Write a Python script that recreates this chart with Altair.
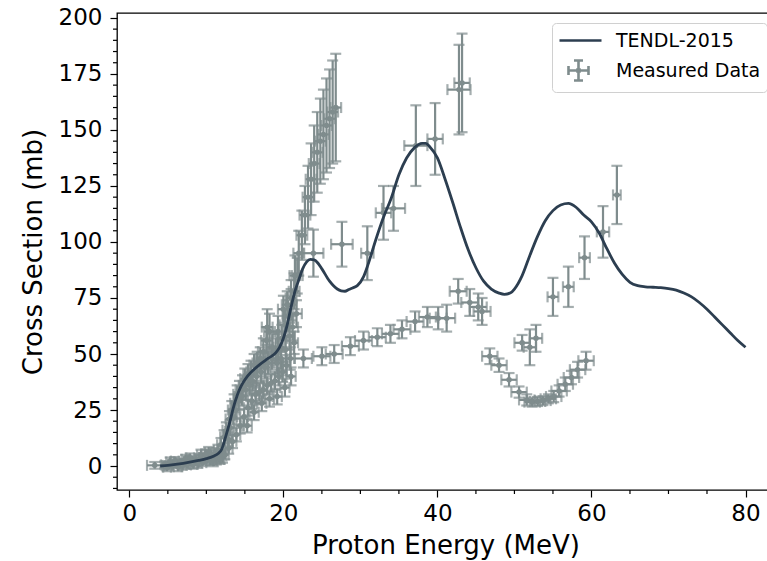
import altair as alt
import pandas as pd

# ---------------- TENDL-2015 evaluation ----------------
tendl_E = [4, 5, 6, 7, 8, 9, 10, 11, 11.5, 12, 12.5, 13, 13.5, 14, 14.5, 15, 15.7, 16, 17, 18, 19,
           19.5, 20, 20.5, 21, 21.5, 22, 22.5, 23, 23.5, 24, 24.5, 25, 26, 27, 27.5, 28, 28.5, 29,
           29.6, 30.4, 31, 32, 33, 34, 35, 36, 37, 38, 38.5, 39, 40, 41, 42, 43, 44, 45, 46,
           47, 48, 48.7, 49.5, 50, 51, 52, 53, 54, 55, 56, 57, 58, 59, 60, 61, 62, 63, 64, 65, 66,
           67, 68, 69, 70, 71, 72, 73, 74, 75, 76, 77, 78, 79, 80]
tendl_xs = [0.0, 0.3, 0.7, 1.2, 1.8, 2.5, 3.3, 4.5, 5.5, 7.5, 13, 19, 26, 31.5, 35.5, 38.5, 41.5, 42.5,
            45.5, 48, 50.5, 53, 57, 63, 71, 78, 83, 88, 91, 92.2, 92, 90.5, 88, 82.5, 79, 78.2, 78,
            78.8, 79.5, 80.5, 84.4, 90, 101, 111, 119.5, 130, 137.5, 142, 144, 144, 142.5, 137.5,
            128, 117.5, 106.5, 96.5, 88.5, 82.5, 79, 77.2, 76.6, 77.3, 79, 85, 94, 102.5, 109.5,
            114, 116.5, 117.2, 115.5, 112, 109, 104, 97, 90.5, 85.5, 82, 80.5, 80, 79.8, 79.6, 79.2,
            78.5, 77.2, 75.5, 73, 70, 66.5, 63, 59.5, 56, 53]

# ---------------- Measured data (energy, cross section, errors) ----------------
meas_E = [3.3, 4.6, 5.1, 5.6, 6.1, 6.6, 7.1, 7.6, 8.1, 8.6, 9.1, 9.6, 10.1, 10.6, 11.1, 11.5, 11.9,
          12.3, 12.6, 13.0, 13.3, 13.6, 14.0, 14.3, 14.7, 15.0, 15.4, 15.8, 16.2, 16.6, 17.0, 17.4,
          17.8, 18.2, 18.6, 19.0, 19.4, 19.8, 20.0, 20.2, 20.6, 21.0, 21.4, 21.8,
          7.5, 9.5, 10.5,
          5.3, 6.3, 7.3, 8.3, 9.3, 10.3, 11.3,
          4.9, 5.9, 6.9, 7.9, 8.9, 9.9, 10.9, 11.6,
          12.1, 12.8, 13.1, 13.5, 13.8, 14.2, 14.6, 15.1, 15.6, 16.0, 16.5, 17.1, 17.6, 18.0, 18.5,
          19.2, 19.7, 20.3, 20.8, 21.2, 21.7, 17.9, 19.3, 20.5,
          11.8, 12.4, 12.9, 13.4, 13.9, 14.4, 14.9, 15.4, 15.9, 16.4, 16.9, 17.4, 17.9, 18.4, 18.9,
          19.4, 19.9, 20.4, 20.9, 21.4,
          15.3, 16.2, 17.2, 18.2, 19.2, 20.2, 21.0,
          21.0, 21.5, 22.0, 22.4, 22.8, 23.2, 23.6, 24.0, 24.4, 24.8, 25.2, 25.6, 26.0, 26.4, 26.8,
          23.9, 27.6, 30.9, 33.0, 34.3, 37.2, 39.7, 42.8, 43.2,
          22.6, 25.0, 26.6, 28.7, 30.4, 32.2, 33.9, 35.4, 37.1, 38.7, 40.1, 41.2, 42.7, 44.2, 45.3,
          45.8,
          46.8, 48.0, 49.3, 50.6, 51.6, 52.3, 53.0, 53.7, 54.4, 55.1, 55.8, 56.6, 57.4, 58.2, 59.3,
          51.0, 52.0, 52.8, 55.0, 57.0, 59.1, 61.5, 63.3]
meas_xs = [0.3, 0.5, 0.2, 1.0, 0.8, 1.6, 1.3, 2.2, 2.6, 2.0, 3.2, 3.8, 3.1, 4.8, 5.5, 7.0, 9.5,
           13, 16, 21, 25, 28, 32, 34, 36, 39, 41, 42, 45, 46, 48, 51,
           56, 60, 53, 51, 53, 57, 70, 63, 67, 72, 78, 85,
           0.5, 1.5, 2.5,
           1.8, -0.3, 3.0, 0.8, 4.8, 6.0, 3.2,
           -0.5, 2.2, 0.4, 3.6, 1.4, 5.2, 2.4, 4.0,
           4.5, 12, 17, 22, 25, 29, 31, 34, 36, 38, 40, 42, 44, 46, 48,
           46, 48, 52, 58, 62, 68, 62, 60, 72,
           3.0, 5.0, 8.0, 11, 14, 18, 22, 26, 29, 32, 33, 34, 36, 37, 38,
           40, 42, 45, 48, 55,
           18, 24, 28, 30, 31, 35, 40,
           75, 85, 95, 103, 112, 120, 128, 135, 140, 145, 148, 152, 155, 158, 160,
           95, 99, 95, 113, 115, 143, 146, 168, 171,
           48, 49, 50, 53.5, 56, 57.5, 59, 61, 64.5, 66.5, 66, 66, 78, 73, 71,
           69,
           49, 45, 38.5, 33, 29.5, 28.5, 28.8, 29.2, 30, 31, 33.5, 36.5, 39.5, 43, 47,
           55, 53, 57, 75.5, 80, 93, 104.5, 121]
meas_dE = [1.0, 0.5, 0.5, 0.5, 0.5, 0.5, 0.5, 0.5, 0.5, 0.5, 0.5, 0.5, 0.5, 0.5, 0.5, 0.5, 0.5,
           0.5, 0.5, 0.5, 0.5, 0.5, 0.5, 0.5, 0.5, 0.6, 0.6, 0.6, 0.6, 0.6, 0.6, 0.7,
           0.7, 0.7, 0.7, 0.7, 0.7, 0.7, 0.7, 0.7, 0.7, 0.7, 0.7, 0.7,
           0.5, 0.5, 0.5,
           0.5, 0.5, 0.5, 0.5, 0.5, 0.5, 0.5,
           0.5, 0.5, 0.5, 0.5, 0.5, 0.5, 0.5, 0.5,
           0.5, 0.5, 0.5, 0.5, 0.5, 0.5, 0.6, 0.6, 0.6, 0.6, 0.6, 0.6, 0.7, 0.7, 0.7,
           0.7, 0.7, 0.7, 0.7, 0.7, 0.7, 0.7, 0.7, 0.7,
           0.5, 0.5, 0.5, 0.5, 0.5, 0.5, 0.5, 0.5, 0.5, 0.5, 0.5, 0.5, 0.5, 0.5, 0.5,
           0.5, 0.5, 0.5, 0.5, 0.5,
           0.6, 0.6, 0.6, 0.6, 0.6, 0.6, 0.6,
           0.7, 0.7, 0.7, 0.7, 0.7, 0.7, 0.7, 0.7, 0.7, 0.7, 0.7, 0.7, 0.7, 0.7, 0.7,
           1.3, 1.4, 0.8, 1.0, 1.5, 1.5, 1.0, 1.5, 1.0,
           1.1, 1.1, 1.1, 1.1, 1.1, 1.1, 1.1, 1.1, 1.1, 1.1, 1.1, 1.1, 1.1, 1.1, 1.1,
           1.1,
           1.0, 1.0, 1.0, 1.0, 1.0, 1.0, 1.0, 1.0, 1.0, 1.0, 1.0, 1.0, 1.0, 1.0, 1.0,
           1.0, 0.8, 0.8, 0.7, 0.7, 0.7, 0.8, 0.5]
meas_dxs = [1.5, 1.5, 1.5, 1.5, 1.5, 1.5, 1.5, 1.8, 1.8, 1.8, 2.0, 2.0, 2.0, 2.2, 2.5, 2.5, 3.0,
            3.0, 3.5, 3.5, 4, 4, 4, 4, 4.5, 4.5, 4.5, 5, 5, 5, 5, 6,
            6, 8, 6, 6, 6, 6, 6, 7, 7, 7, 8, 8,
            1.5, 1.5, 2.0,
            2.0, 2.0, 2.0, 2.0, 2.5, 2.5, 2.5,
            1.8, 1.8, 2.0, 2.0, 2.2, 2.2, 2.5, 2.5,
            3, 3, 3.5, 3.5, 4, 4, 4, 4.5, 4.5, 4.5, 5, 5, 5, 5, 5,
            5, 5, 5.5, 6, 6, 6, 8, 7, 6,
            2, 2, 2.5, 3, 3, 3.5, 3.5, 3.5, 3.5, 4, 4, 4, 4, 4, 4,
            4, 4.5, 4.5, 5, 5,
            3, 3.5, 3.5, 3.5, 3.5, 4, 4,
            8, 9, 10, 11, 13, 14, 16, 17, 18, 19, 20, 21, 22, 23, 24,
            10.5, 10, 12, 12, 10, 18, 16, 20, 22,
            4, 4, 4, 4, 4, 4, 4, 4, 4.5, 4.5, 5, 6, 5.5, 6, 6,
            6,
            3.5, 3, 3, 2.5, 2.5, 2, 2, 2, 2, 2.5, 2.5, 3, 3, 3.5, 4,
            3.5, 8, 6, 8.5, 9, 9.5, 11.5, 13]

# axis ticks
x_major = [0, 20, 40, 60, 80]
y_major = [0, 25, 50, 75, 100, 125, 150, 175, 200]
x_minor = [5, 10, 15, 25, 30, 35, 45, 50, 55, 65, 70, 75]
y_minor = [-10, -5, 5, 10, 15, 20, 30, 35, 40, 45, 55, 60, 65, 70, 80, 85, 90, 95, 105, 110, 115,
           120, 130, 135, 140, 145, 155, 160, 165, 170, 180, 185, 190, 195]

series_names = ["TENDL-2015", "Measured Data"]
series_colors = ["#2c3e50", "#7f8c8d"]

line_df = pd.DataFrame({"E": tendl_E, "xs": tendl_xs})
meas_df = pd.DataFrame({"E": meas_E, "xs": meas_xs, "dE": meas_dE, "dxs": meas_dxs})
meas_df["E_lo"] = meas_df["E"] - meas_df["dE"]
meas_df["E_hi"] = meas_df["E"] + meas_df["dE"]
meas_df["xs_lo"] = meas_df["xs"] - meas_df["dxs"]
meas_df["xs_hi"] = meas_df["xs"] + meas_df["dxs"]
legend_df = pd.DataFrame({"series": series_names})
xminor_df = pd.DataFrame({"v": x_minor})
yminor_df = pd.DataFrame({"v": y_minor})

FONT = "DejaVu Sans"
GRAY = series_colors[1]
DARK = series_colors[0]
W, H = 657, 477

xscale = alt.Scale(domain=[-1.6, 83.7], nice=False, zero=False)
yscale = alt.Scale(domain=[-10.7, 202.2], nice=False, zero=False)

xaxis = alt.Axis(
    values=x_major, labelOverlap=False, tickSize=7,
    grid=False, domain=False, tickColor="black", tickWidth=1.2,
    labelFont=FONT, labelFontSize=23, labelColor="black", labelPadding=5,
    titleFont=FONT, titleFontSize=26, titleColor="black", titleFontWeight="normal",
    titlePadding=7,
)
yaxis = alt.Axis(
    values=y_major, labelOverlap=False, tickSize=7,
    grid=False, domain=False, tickColor="black", tickWidth=1.2,
    labelFont=FONT, labelFontSize=23, labelColor="black", labelPadding=8,
    titleFont=FONT, titleFontSize=26, titleColor="black", titleFontWeight="normal",
    titlePadding=12,
)
XT = "Proton Energy (MeV)"
YT = "Cross Section (mb)"

base = alt.Chart(meas_df)
EBW = 2.2
CAP = 11

vbars = base.mark_rule(color=GRAY, strokeWidth=EBW).encode(
    x=alt.X("E:Q", scale=xscale, axis=xaxis, title=XT),
    y=alt.Y("xs_lo:Q", scale=yscale, axis=yaxis, title=YT),
    y2="xs_hi:Q",
)
hbars = base.mark_rule(color=GRAY, strokeWidth=EBW).encode(
    x=alt.X("E_lo:Q", scale=xscale, title=XT),
    x2="E_hi:Q",
    y=alt.Y("xs:Q", scale=yscale, title=YT),
)
cap_lo = base.mark_tick(color=GRAY, orient="horizontal", size=CAP, thickness=EBW).encode(
    x=alt.X("E:Q", scale=xscale, title=XT), y=alt.Y("xs_lo:Q", scale=yscale, title=YT))
cap_hi = base.mark_tick(color=GRAY, orient="horizontal", size=CAP, thickness=EBW).encode(
    x=alt.X("E:Q", scale=xscale, title=XT), y=alt.Y("xs_hi:Q", scale=yscale, title=YT))
cap_l = base.mark_tick(color=GRAY, orient="vertical", size=CAP, thickness=EBW).encode(
    x=alt.X("E_lo:Q", scale=xscale, title=XT), y=alt.Y("xs:Q", scale=yscale, title=YT))
cap_r = base.mark_tick(color=GRAY, orient="vertical", size=CAP, thickness=EBW).encode(
    x=alt.X("E_hi:Q", scale=xscale, title=XT), y=alt.Y("xs:Q", scale=yscale, title=YT))
pts = base.mark_circle(color=GRAY, size=30, opacity=1).encode(
    x=alt.X("E:Q", scale=xscale, title=XT), y=alt.Y("xs:Q", scale=yscale, title=YT))

curve = alt.Chart(line_df).mark_line(color=DARK, strokeWidth=2.8, interpolate="monotone").encode(
    x=alt.X("E:Q", scale=xscale, title=XT), y=alt.Y("xs:Q", scale=yscale, title=YT))

# minor ticks (outside the frame)
xminor = alt.Chart(xminor_df).mark_rule(color="black", strokeWidth=1.2, clip=False).encode(
    x=alt.X("v:Q", scale=xscale, title=XT), y=alt.value(H), y2=alt.value(H + 4))
yminor = alt.Chart(yminor_df).mark_rule(color="black", strokeWidth=1.2, clip=False).encode(
    y=alt.Y("v:Q", scale=yscale, title=YT), x=alt.value(0), x2=alt.value(-4))

# Legend symbols (custom paths): a line handle and an error-bar handle
line_path = "M-1,0L3.2,0"
eb_path = ("M-0.1,0L1.9,0M0.9,-1L0.9,1M-0.1,-0.45L-0.1,0.45M1.9,-0.45L1.9,0.45"
           "M0.45,-1L1.35,-1M0.45,1L1.35,1M0.8,-0.1L1.0,-0.1L1.0,0.1L0.8,0.1Z")
leg = alt.Legend(
    title=None, orient="none", legendX=435, legendY=10, padding=6,
    strokeColor="#d0d0d0", fillColor="white", cornerRadius=4,
    labelFont=FONT, labelFontSize=19, labelColor="black",
    symbolSize=400, symbolStrokeWidth=2.6, labelOffset=35, rowPadding=4,
)
legend_layer = alt.Chart(legend_df).transform_filter("false").mark_point(
    filled=False, opacity=1, strokeWidth=2.6
).encode(
    x=alt.value(0), y=alt.value(0),
    color=alt.Color("series:N", scale=alt.Scale(domain=series_names, range=series_colors), legend=leg),
    shape=alt.Shape("series:N", scale=alt.Scale(domain=series_names, range=[line_path, eb_path]), legend=leg),
)

chart = alt.layer(vbars, hbars, cap_lo, cap_hi, cap_l, cap_r, pts, curve, xminor, yminor,
                  legend_layer).properties(
    width=W, height=H,
    autosize=alt.AutoSizeParams(type="none"),
    padding={"left": 117, "top": 13, "right": -7, "bottom": 71},
    background="white",
).configure_view(stroke="black", strokeWidth=1.3)

chart.save("out.html", embed_options={"renderer": "svg", "actions": False})
